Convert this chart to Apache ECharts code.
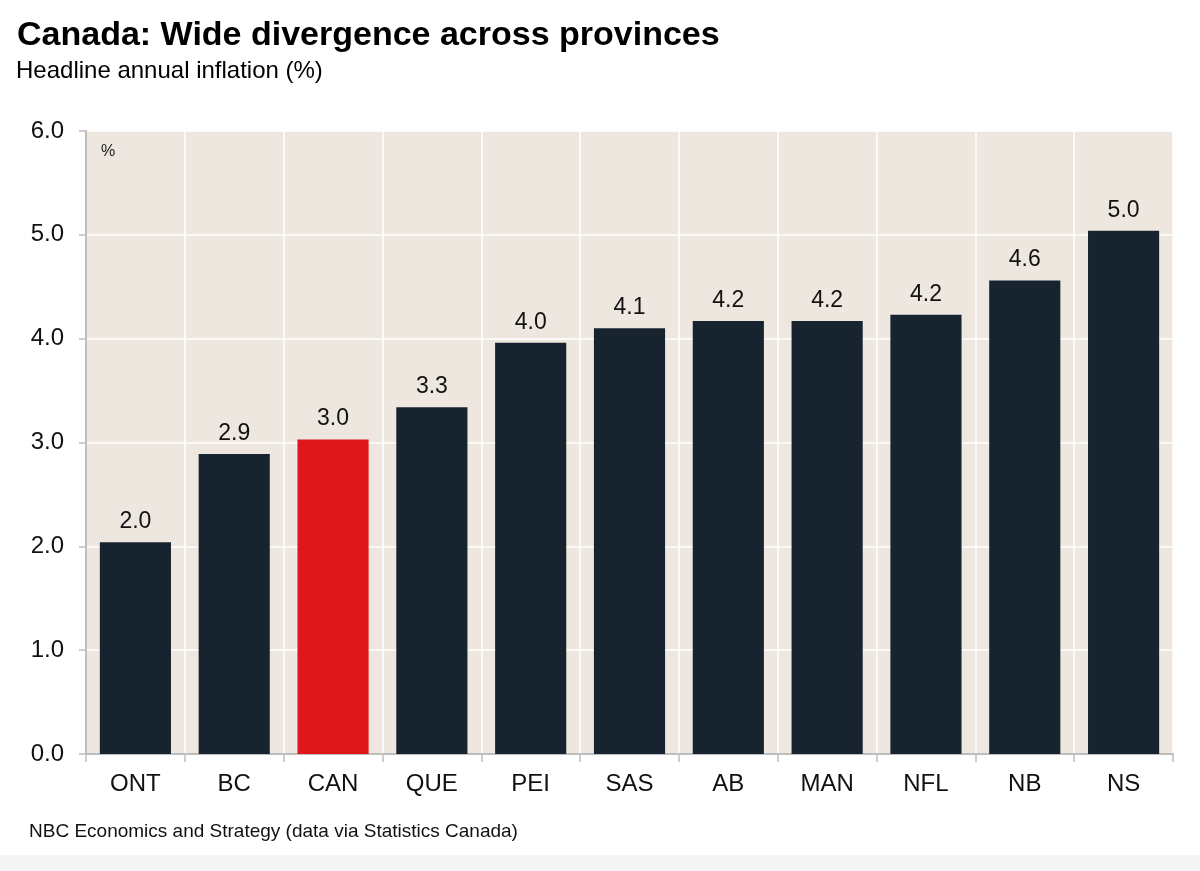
<!DOCTYPE html>
<html>
<head>
<meta charset="utf-8">
<script src="https://cdn.jsdelivr.net/npm/echarts@6/dist/echarts.min.js"></script>
<style>
html,body{margin:0;padding:0;background:#fff;}
#c{width:1200px;height:871px;}
</style>
</head>
<body>
<div id="c"></div>
<script>
const categories = ['ONT','BC','CAN','QUE','PEI','SAS','AB','MAN','NFL','NB','NS'];
const values = [2.04, 2.89, 3.03, 3.34, 3.96, 4.10, 4.17, 4.17, 4.23, 4.56, 5.04];
const highlight = 'CAN';
const yTicks = [0, 1, 2, 3, 4, 5, 6];

const FONT = 'Liberation Sans, Arial, sans-serif';
const chart = echarts.init(document.getElementById('c'));
chart.setOption({
  backgroundColor: '#ffffff',
  textStyle: {fontFamily: FONT},
  title: [
    {text: 'Canada: Wide divergence across provinces', left: 12, top: 14,
     textStyle: {fontSize: 34, fontWeight: 'bold', color: '#000', fontFamily: FONT}},
    {text: 'Headline annual inflation (%)', left: 11, top: 54,
     textStyle: {fontSize: 24, fontWeight: 'normal', color: '#000', fontFamily: FONT}},
    {text: 'NBC Economics and Strategy (data via Statistics Canada)', left: 24, top: 817,
     textStyle: {fontSize: 19, fontWeight: 'normal', color: '#111', fontFamily: FONT}},
    {text: '%', left: 96, top: 139,
     textStyle: {fontSize: 16, fontWeight: 'normal', color: '#222', fontFamily: FONT}}
  ],
  graphic: [
    {type: 'rect', left: 0, top: 855, shape: {width: 1200, height: 16}, style: {fill: '#f5f5f5'}, silent: true}
  ],
  grid: {left: 86, right: 27, top: 131, bottom: 117, show: true, backgroundColor: '#eee7e0', borderWidth: 0},
  xAxis: {
    type: 'category', data: categories,
    axisLine: {show: true, lineStyle: {color: '#bdbdbd', width: 2}},
    axisTick: {show: true, alignWithLabel: false, length: 8, lineStyle: {color: '#bdbdbd', width: 1.5}},
    axisLabel: {fontSize: 24, color: '#111', margin: 18, fontFamily: FONT},
    splitLine: {show: true, lineStyle: {color: '#ffffff', width: 1.5}}
  },
  yAxis: {
    type: 'value', min: 0, max: 6, interval: 1,
    axisLine: {show: true, lineStyle: {color: '#bdbdbd', width: 2}},
    axisTick: {show: true, inside: false, length: 7, lineStyle: {color: '#bdbdbd', width: 1.5}},
    axisLabel: {fontSize: 24, color: '#111', margin: 22, fontFamily: FONT,
      formatter: v => yTicks.includes(v) ? v.toFixed(1) : ''},
    splitLine: {show: true, lineStyle: {color: '#ffffff', width: 1.5}}
  },
  series: [{
    type: 'bar',
    data: values.map((v, i) => ({value: v, itemStyle: {color: categories[i] === highlight ? '#df161c' : '#17242f'}})),
    barWidth: '72%',
    label: {show: true, position: 'top', distance: 9, fontSize: 23, color: '#111', fontFamily: FONT,
      formatter: p => p.value.toFixed(1)},
    animation: false
  }],
  animation: false
});
</script>
</body>
</html>
